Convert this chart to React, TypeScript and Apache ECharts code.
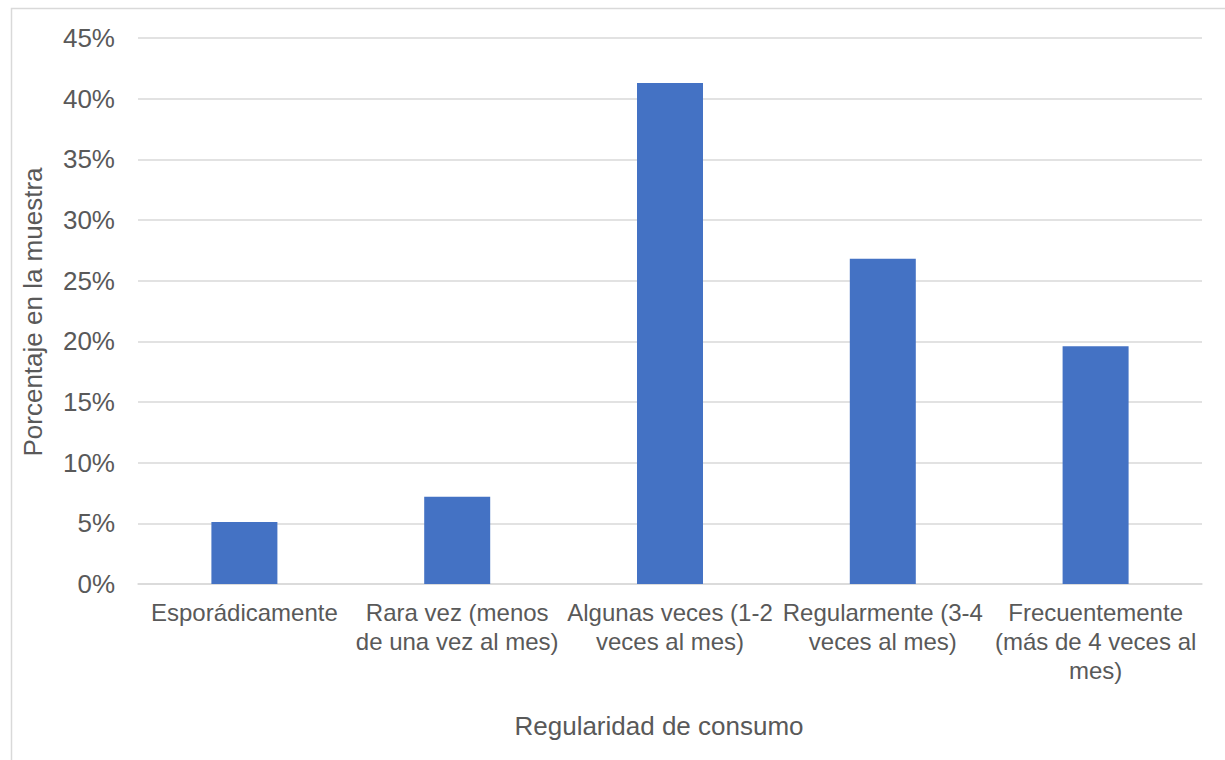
import React, { useEffect, useRef } from "react";
import * as echarts from "echarts";

const categories = [
  "Esporádicamente",
  "Rara vez (menos\nde una vez al mes)",
  "Algunas veces (1-2\nveces al mes)",
  "Regularmente (3-4\nveces al mes)",
  "Frecuentemente\n(más de 4 veces al\nmes)",
];
const values = [5.1, 7.2, 41.3, 26.8, 19.6];
const xTitle = "Regularidad de consumo";
const yTitle = "Porcentaje en la muestra";

const FONT = "'Liberation Sans', Arial, sans-serif";
const TXT = "#595959";
const GRID = "#D9D9D9";

export default function App() {
  const ref = useRef<HTMLDivElement>(null);
  useEffect(() => {
    if (!ref.current) return;
    const chart = echarts.init(ref.current, null, { renderer: "svg" });
    chart.setOption({
      animation: false,
      backgroundColor: "#ffffff",
      grid: { left: 138, right: 23, top: 38, bottom: 176, containLabel: false },
      xAxis: {
        type: "category",
        data: categories,
        axisLine: { show: true, lineStyle: { color: GRID, width: 1.5 } },
        axisTick: { show: false },
        axisLabel: {
          interval: 0,
          color: TXT,
          fontFamily: FONT,
          fontSize: 24,
          lineHeight: 29,
          margin: 14,
          align: "center",
        },
      },
      yAxis: {
        type: "value",
        min: 0,
        max: 45,
        interval: 5,
        axisLine: { show: false },
        axisTick: { show: false },
        splitLine: { lineStyle: { color: GRID, width: 1.5 } },
        axisLabel: {
          formatter: "{value}%",
          color: TXT,
          fontFamily: FONT,
          fontSize: 26,
          margin: 23,
        },
      },
      series: [
        {
          type: "bar",
          data: values,
          barWidth: 66,
          itemStyle: { color: "#4472C4" },
        },
      ],
      graphic: [
        {
          type: "rect",
          shape: { x: 11.5, y: 8.5, width: 1400, height: 900 },
          style: { fill: "none", stroke: GRID, lineWidth: 1.5 },
          silent: true,
        },
        {
          type: "text",
          x: 659,
          y: 726,
          style: {
            text: xTitle,
            fill: TXT,
            font: `26px ${FONT}`,
            align: "center",
            verticalAlign: "middle",
          },
        },
        {
          type: "text",
          x: 33,
          y: 312,
          rotation: Math.PI / 2,
          style: {
            text: yTitle,
            fill: TXT,
            font: `26px ${FONT}`,
            align: "center",
            verticalAlign: "middle",
          },
        },
      ],
    });
    return () => chart.dispose();
  }, []);
  return (
    <div
      ref={ref}
      style={{ position: "fixed", left: 0, top: 0, width: 1225, height: 760 }}
    />
  );
}
